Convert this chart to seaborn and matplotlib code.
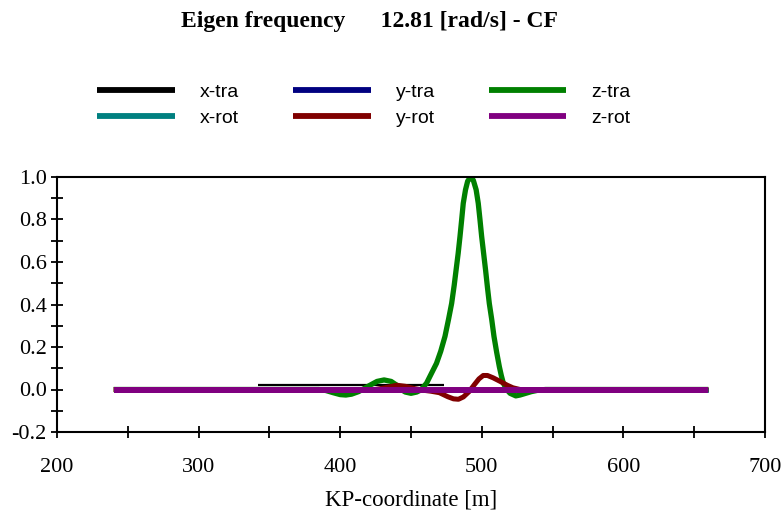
import matplotlib
matplotlib.use("Agg")
import matplotlib.pyplot as plt
from matplotlib.ticker import MultipleLocator
from matplotlib.lines import Line2D
import seaborn as sns
import pandas as pd

# ---------------- data ----------------
kp_full = [240, 660]
zero_full = [0.0, 0.0]

kp_xtra = [342, 473]
xtra = [0.022, 0.022]

kp_ztra = [240, 385, 390, 395, 400, 404, 408, 413, 417, 421, 426, 431, 436, 440, 443,
           446, 450, 454, 457, 461, 464, 468, 471, 474, 476.5, 478.7, 480.5, 481.8,
           483.3, 484.6, 485.8, 486.9, 488.5, 490, 492, 494, 496, 497.5, 498.7, 499.9,
           501.3, 502.7, 504, 505.3, 507, 508.6, 510.5, 512.4, 513.8, 515.2, 517.5,
           520, 524, 527, 531, 535, 540, 545, 660]
ztra = [0.0, 0.0, -0.005, -0.015, -0.024, -0.026, -0.022, -0.01, 0.005, 0.02, 0.038,
        0.045, 0.038, 0.02, 0.0, -0.012, -0.018, -0.012, -0.002, 0.03, 0.07, 0.123,
        0.18, 0.25, 0.33, 0.405, 0.49, 0.56, 0.64, 0.72, 0.80, 0.876, 0.94, 0.98, 1.0,
        0.985, 0.94, 0.876, 0.80, 0.72, 0.64, 0.56, 0.48, 0.405, 0.33, 0.25, 0.175,
        0.107, 0.065, 0.03, 0.0, -0.018, -0.03, -0.026, -0.018, -0.01, -0.003, 0.0, 0.0]

kp_yrot = [240, 425, 433, 440, 446, 452, 458, 464, 470, 476, 480, 483.5, 487, 491, 495,
           498, 501, 504, 508, 513, 518, 522, 527, 660]
yrot = [0.0, 0.0, 0.01, 0.02, 0.015, 0.005, -0.003, -0.008, -0.015, -0.034, -0.044,
        -0.046, -0.035, -0.01, 0.025, 0.05, 0.066, 0.066, 0.055, 0.038, 0.02, 0.008,
        0.0, 0.0]

series_names = ["x-tra", "y-tra", "z-tra", "x-rot", "y-rot", "z-rot"]
series_colors = ["#000000", "#000080", "#008000", "#008080", "#800000", "#800080"]

title_text = "Eigen frequency      12.81 [rad/s] - CF"
x_label = "KP-coordinate [m]"

# ---------------- plot ----------------
sns.set_style("white")
plt.rcParams["font.family"] = ["Liberation Serif", "DejaVu Serif"]
plt.rcParams["text.color"] = "black"
plt.rcParams["axes.labelcolor"] = "black"
plt.rcParams["xtick.color"] = "black"
plt.rcParams["ytick.color"] = "black"

fig = plt.figure(figsize=(7.84, 5.15), dpi=100)
ax = fig.add_axes([57 / 784, 83 / 515, 708 / 784, 255 / 515])

data = {
    "x-tra": (kp_xtra, xtra, 1.6),
    "y-tra": (kp_full, zero_full, 3.6),
    "z-tra": (kp_ztra, ztra, 3.8),
    "x-rot": (kp_full, zero_full, 3.6),
    "y-rot": (kp_yrot, yrot, 3.6),
    "z-rot": (kp_full, zero_full, 4.3),
}

for name, col in zip(series_names, series_colors):
    xs, ys, lw = data[name]
    df = pd.DataFrame({"kp": xs, "v": ys})
    sns.lineplot(data=df, x="kp", y="v", ax=ax, color=col, linewidth=lw,
                 sort=False, estimator=None, solid_capstyle="butt")

ax.set_xlim(200, 700)
ax.set_ylim(-0.2, 1.0)
ax.xaxis.set_major_locator(MultipleLocator(100))
ax.xaxis.set_minor_locator(MultipleLocator(50))
ax.yaxis.set_major_locator(MultipleLocator(0.2))
ax.yaxis.set_minor_locator(MultipleLocator(0.1))
ax.yaxis.set_major_formatter(matplotlib.ticker.FormatStrFormatter("%.1f"))

for s in ax.spines.values():
    s.set_visible(True)
    s.set_color("black")
    s.set_linewidth(1.5)

ax.tick_params(axis="both", which="both", direction="inout", length=9,
               width=1.3, color="black", bottom=True, left=True,
               top=False, right=False)
ax.tick_params(axis="x", which="major", pad=14, labelsize=16)
ax.tick_params(axis="y", which="major", pad=3, labelsize=16)
ax.set_xlabel(x_label, fontsize=16.5, labelpad=9)
ax.set_ylabel("")

fig.text(369.5 / 784, 1 - 22 / 515, title_text, ha="center", va="center",
         fontsize=17, fontweight="bold")

# legend filled column-wise: rows x/y/z-tra then x/y/z-rot
order = [0, 3, 1, 4, 2, 5]
leg_lines = [Line2D([], [], color=series_colors[i], linewidth=4.2,
                    solid_capstyle="butt") for i in order]
leg_labels = [series_names[i] for i in order]
leg = fig.legend(leg_lines, leg_labels, loc="center", ncol=3,
                 bbox_to_anchor=(364 / 784, 1 - 105 / 515), frameon=False,
                 handlelength=4.0, handletextpad=1.3, columnspacing=2.75,
                 labelspacing=0.45,
                 prop={"family": ["Liberation Sans"], "size": 14})

fig.savefig("out.png", dpi=100)
